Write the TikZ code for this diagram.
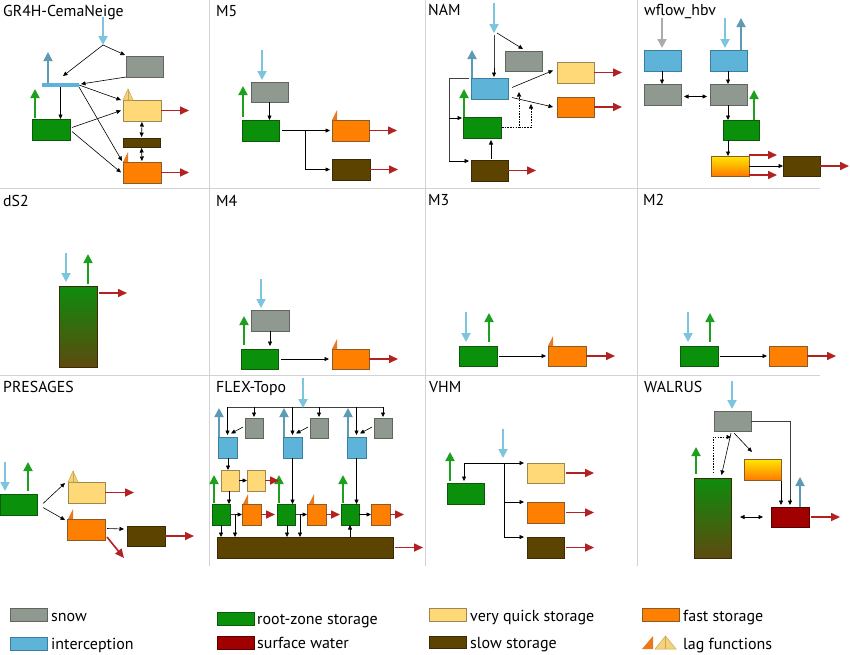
\documentclass[tikz,border=0pt]{standalone}
\usepackage{fontspec}
\setmainfont{PT Sans}
\usetikzlibrary{arrows.meta,calc}
\definecolor{snowc}{HTML}{8F998F}\definecolor{snowb}{HTML}{5F655F}
\definecolor{icpc}{HTML}{5DB4D8}\definecolor{icpb}{HTML}{3B7E9E}
\definecolor{rootc}{HTML}{0B900B}\definecolor{rootb}{HTML}{0A5A0A}
\definecolor{vqc}{HTML}{FFD978}\definecolor{vqb}{HTML}{9A8850}
\definecolor{fastc}{HTML}{FF8000}\definecolor{fastb}{HTML}{8A5A28}
\definecolor{slowc}{HTML}{5C4300}\definecolor{slowb}{HTML}{3A2A05}
\definecolor{swc}{HTML}{A00000}\definecolor{swb}{HTML}{5A0000}
\definecolor{precip}{HTML}{7DC4DE}\definecolor{evap}{HTML}{5B9CB4}
\definecolor{trans}{HTML}{1EA01E}\definecolor{runoff}{HTML}{B22222}
\definecolor{gridc}{HTML}{D3D3D3}\definecolor{lagy}{HTML}{F3D27A}
\definecolor{lagyb}{HTML}{C9A850}\definecolor{lago}{HTML}{E9791A}
\definecolor{yotop}{HTML}{FFE800}\definecolor{yobot}{HTML}{FF7A00}
\definecolor{gbtop}{HTML}{0D8C0D}\definecolor{gbbot}{HTML}{5E4A0F}
\definecolor{grayarr}{HTML}{A9ADA9}
\newcommand\Bx[6]{\node[#1,minimum width=#5pt,minimum height=#6pt] (#2) at (#3,#4) {};}
\newcommand\lagY[2]{\draw[draw=lagyb, fill=lagy, line width=0.5pt] (#1,#2) -- ++(5,-11) -- ++(5,11) -- cycle; \draw[lagyb, line width=0.5pt] (#1+5,#2) -- ++(0,-11);}
\newcommand\lagO[2]{\fill[lago] (#1,#2) -- ++(5,-10) -- ++(0,10) -- cycle;}
\begin{document}
\begin{tikzpicture}[x=1pt,y=-1pt,
 bx/.style={draw, line width=0.7pt, inner sep=0pt, outer sep=0pt, anchor=north west},
 snow/.style={bx, fill=snowc, draw=snowb},
 icp/.style={bx, fill=icpc, draw=icpb},
 root/.style={bx, fill=rootc, draw=rootb},
 vq/.style={bx, fill=vqc, draw=vqb},
 fast/.style={bx, fill=fastc, draw=fastb},
 slow/.style={bx, fill=slowc, draw=slowb},
 swat/.style={bx, fill=swc, draw=swb},
 yo/.style={bx, top color=yotop, bottom color=yobot, draw=fastb},
 gb/.style={bx, top color=gbtop, bottom color=gbbot, draw=slowb},
 colarr/.style={line width=1.8pt, -{Triangle[length=9pt,width=9pt]}},
 pa/.style={colarr, draw=precip},
 ea/.style={colarr, draw=evap},
 ta/.style={colarr, draw=trans},
 ga/.style={colarr, draw=grayarr},
 ra/.style={line width=1.6pt, draw=runoff, -{Triangle[length=9pt,width=8pt]}},
 ka/.style={draw=black, line width=0.6pt, -{Triangle[length=4.5pt,width=4pt]}},
 kl/.style={draw=black!75, line width=0.6pt},
 kd/.style={draw=black, line width=0.6pt, {Triangle[length=4.5pt,width=4pt]}-{Triangle[length=4.5pt,width=4pt]}, shorten <=1pt, shorten >=1pt},
 kdot/.style={ka, dash pattern=on 1.5pt off 1.2pt, line width=0.8pt},
 ttl/.style={anchor=base west, inner sep=0pt, font=\fontsize{15.8}{18}\selectfont},
 lgt/.style={anchor=base west, inner sep=0pt, font=\fontsize{16}{18}\selectfont},
 gridl/.style={draw=gridc, line width=0.8pt}
]
\useasboundingbox[fill=white] (0,0) rectangle (850,654);
% grid
\draw[gridl] (209.5,0) -- (209.5,566);
\draw[gridl] (425,0) -- (425,566);
\draw[gridl] (637.5,0) -- (637.5,566);
\draw[gridl] (0,188) -- (820,188);
\draw[gridl] (0,375) -- (820,375);
% titles
\node[ttl] (t1) at (3,16) {GR4H-CemaNeige};
\node[ttl] (t2) at (216,16) {M5};
\node[ttl] (t3) at (428,15) {NAM};
\node[ttl] (t4) at (644,15) {wflow\_hbv};
\node[ttl] (t5) at (3,206) {dS2};
\node[ttl] (t6) at (216,206) {M4};
\node[ttl] (t7) at (428,205) {M3};
\node[ttl] (t8) at (643,205) {M2};
\node[ttl] (t9) at (3,392) {PRESAGES};
\node[ttl] (t10) at (216,392) {FLEX-Topo};
\node[ttl] (t11) at (429,392) {VHM};
\node[ttl] (t12) at (644,392) {WALRUS};

% ---------- GR4H-CemaNeige
\Bx{snow}{sn1}{126}{56}{37}{21}
\node[bx, fill=icpc, draw=none, minimum width=37pt, minimum height=4pt] (ib1) at (42,83) {};
\Bx{root}{g1}{32}{119}{38}{21}
\Bx{vq}{v1}{123}{100}{38}{21}
\Bx{slow}{s1}{123}{138}{37}{9}
\Bx{fast}{f1}{123}{162}{38}{21}
\lagY{123}{100}
\lagO{123}{162}
\coordinate (p1s) at (103,17);
\coordinate (p1t) at (103,45);
\draw[pa] (p1s) -- (p1t);
\draw[ka] (p1t) -- (63,76);
\draw[ka] (p1t) -- ($(sn1.north west)+(-1,-1)$);
\draw[ka] (sn1.south west) -- ($(ib1.east)+(2,-1)$);
\draw[ka] (ib1.south) -- (ib1.south |- g1.north);
\draw[ka] (ib1.east) -- ($(v1.north west)+(-2,0)$);
\draw[ka] (ib1.south east) -- ($(f1.north west)+(-1,-1)$);
\draw[ka] ($(g1.east)+(2,-2)$) -- ($(v1.west)+(-2,0)$);
\draw[ka] ($(g1.east)+(2,2)$) -- ($(f1.west)+(-2,0)$);
\draw[kd] (v1.south) -- (s1.north);
\draw[kd] (s1.south) -- (f1.north);
\draw[ra] (v1.east) -- +(28,0);
\draw[ra] (f1.east) -- +(28,0);
\draw[ta] ($(g1.north west)+(3,-1)$) -- +(0,-29);
\draw[ea] ($(ib1.north west)+(6,0)$) -- +(0,-31);

% ---------- M5
\Bx{snow}{sn2}{251}{82}{37}{20}
\Bx{root}{g2}{242}{120}{37}{21}
\Bx{fast}{f2}{332}{120}{37}{21}
\Bx{slow}{s2}{332}{159}{38}{21}
\lagO{332}{120}
\draw[pa] (262,50) -- (262,80);
\draw[ta] (243,117) -- (243,86);
\draw[ka] (sn2.south) -- (sn2.south |- g2.north);
\draw[ka] ($(g2.east)+(3,0)$) -- ($(f2.west)+(-2,0)$);
\coordinate (j2) at (305,130.5);
\draw[ka] (j2) |- ($(s2.west)+(-2,0)$);
\draw[ra] (f2.east) -- +(28,0);
\draw[ra] (s2.east) -- +(28,0);

% ---------- NAM
\Bx{snow}{sn3}{505}{51}{37}{20}
\Bx{icp}{i3}{471}{78}{37}{21}
\Bx{root}{g3}{463}{117}{38}{21}
\Bx{slow}{s3}{471}{160}{37}{21}
\Bx{vq}{v3}{557}{62}{37}{21}
\Bx{fast}{f3}{557}{97}{37}{20}
\coordinate (p3t) at (494,33);
\draw[pa] (494,3) -- (p3t);
\draw[kl] (494,35) -- (494,70);
\draw[ka] (494,68) -- ($(i3.north -| 494,0)+(0,-1)$);
\draw[ka] ($(p3t)+(3,0)$) -- ($(sn3.north)+(-0.5,-2)$);
\draw[ea] (472,78) -- (472,50);
\draw[ta] (464,117) -- (464,89);
\draw[ka] ($(i3.east)+(4,-1)$) -- ($(v3.west)+(-4,-2)$);
\draw[ka] ($(i3.east)+(4,9)$) -- ($(f3.west)+(-4,0)$);
\draw[kdot] ($(g3.east)+(1,0)$) -| (519,92);
\draw[kdot] (519,127.5) -| (531,104);
\draw[kl] ($(i3.north west)+(-2,0)$) -- (449,78) -- (449,161);
\draw[ka] (449,161) -- ($(s3.north west)+(-2,1)$);
\draw[ka] (449,118) -- ($(g3.north west)+(-1,1)$);
\draw[ka] (491,159) -- (491,140);
\draw[ra] (v3.east) -- +(28,0);
\draw[ra] (f3.east) -- +(28,0);
\draw[ra] (s3.east) -- +(28,0);

% ---------- wflow_hbv
\Bx{icp}{ia4}{644}{50}{37}{21}
\Bx{icp}{ib4}{710}{50}{37}{21}
\Bx{snow}{sa4}{644}{84}{37}{21}
\Bx{snow}{sb4}{710}{84}{37}{21}
\Bx{root}{g4}{723}{120}{36}{20}
\Bx{yo}{q4}{711}{156}{38}{20}
\Bx{slow}{s4}{783}{156}{37}{20}
\draw[ga] (662,18) -- (662,48);
\draw[pa] (725,18) -- (725,48);
\draw[ea] (741,50) -- (741,18);
\draw[ka] (ia4.south -| 662,0) -- (sa4.north -| 662,0);
\draw[ka] (ib4.south -| 728,0) -- (sb4.north -| 728,0);
\draw[kd] ($(sa4.east)+(2,2)$) -- ($(sb4.west)+(-2,2)$);
\draw[ka] (sb4.south -| 728,0) -- (g4.north -| 728,0);
\draw[ka] (g4.south -| 728,0) -- (q4.north -| 728,0);
\draw[ta] (754,120) -- (754,90);
\draw[ra] ($(q4.north east)+(0,-1)$) -- +(28,0);
\draw[ra] ($(q4.south east)+(0,-1)$) -- +(28,0);
\draw[ka] (q4.east) -- (s4.west);
\draw[ra] (s4.east) -- +(29,0);

% ---------- dS2
\Bx{gb}{d5}{59}{286}{38}{81}
\draw[pa] (66,253) -- (66,282);
\draw[ta] (88,284) -- (88,254);
\draw[ra] ($(d5.north east)+(2,7)$) -- +(28,0);

% ---------- M4
\Bx{snow}{sn6}{251}{310}{38}{21}
\Bx{root}{g6}{241}{349}{37}{20}
\Bx{fast}{f6}{332}{349}{37}{20}
\lagO{332}{349}
\draw[pa] (261,279) -- (261,308);
\draw[ta] (244,345) -- (244,316);
\draw[ka] (sn6.south -| 270,0) -- (270,346);
\draw[ka] ($(g6.east)+(3,0)$) -- ($(f6.west)+(-3,0)$);
\draw[ra] (f6.east) -- +(29,0);

% ---------- M3
\Bx{root}{g7}{459}{346}{38}{20}
\Bx{fast}{f7}{548}{346}{38}{20}
\lagO{548}{346}
\draw[pa] (466,312) -- (466,342);
\draw[ta] (489,342) -- (489,313);
\draw[ka] ($(g7.east)+(2,0)$) -- ($(f7.west)+(-2,0)$);
\draw[ra] (f7.east) -- +(29,0);

% ---------- M2
\Bx{root}{g8}{680}{346}{38}{20}
\Bx{fast}{f8}{769}{346}{38}{20}
\draw[pa] (688,312) -- (688,342);
\draw[ta] (710,342) -- (710,313);
\draw[ka] ($(g8.east)+(2,0)$) -- ($(f8.west)+(-2,0)$);
\draw[ra] (f8.east) -- +(29,0);

% ---------- PRESAGES
\Bx{root}{g9}{0}{494}{37}{21}
\Bx{vq}{v9}{68}{482}{37}{21}
\Bx{fast}{f9}{67}{519}{38}{21}
\Bx{slow}{s9}{127}{526}{38}{20}
\lagY{68}{482}
\lagO{68}{519}
\draw[pa] (5,462) -- (5,491);
\draw[ta] (28,491) -- (28,462);
\draw[ka] ($(g9.east)+(6,-1)$) -- ($(v9.north west)+(-3,1)$);
\draw[ka] ($(g9.east)+(6,3)$) -- ($(f9.north west)+(-2,1)$);
\draw[ra] (v9.east) -- +(29,0);
\draw[ra] (s9.east) -- +(29,0);
\draw[ka] ($(f9.east)+(2,-1)$) -- ($(s9.west)+(-3,-7)$);
\draw[ra] ($(f9.south east)+(2,-3)$) -- +(17,21);

% ---------- FLEX-Topo
\Bx{slow}{fsl}{217}{537}{176}{21}
\draw[kl] (227,407) -- (383,407);
\draw[pa] (303,378) -- (303,408);
\foreach \dx/\i in {0/1,65/2,129/3}{
 \begin{scope}[xshift=\dx pt]
  \Bx{snow}{fs\i}{245}{418}{18}{20}
  \Bx{icp}{fb\i}{218}{437}{19}{21}
  \Bx{root}{fg\i}{212}{504}{18}{21}
  \Bx{fast}{ff\i}{242}{504}{19}{21}
  \draw[ka] (227.5,407) -- (227.5,435);
  \draw[ka] (254,407) -- (254,417);
  \draw[ka] (243,427) -- (231,433.5);
  \draw[ea] (219,437) -- (219,408);
  \draw[ta] (214,503) -- (214,475);
  \draw[ra] (ff\i.east) -- +(14,0);
 \end{scope}
}
\lagO{243}{504}
\lagO{309}{504}
% unit 1
\Bx{vq}{fv1}{221}{470}{18}{21}
\Bx{vq}{fw1}{247}{470}{18}{21}
\draw[ka] (fb1.south -| 228,0) -- (fv1.north -| 228,0);
\draw[ka] (fv1.east) -- (fw1.west);
\draw[ra] (fw1.east) -- +(14,0);
\draw[ka] (fv1.south -| 229,0) -- (fg1.north -| 229,0);
\draw[kl] (fg1.east) -- (235,514.5);
\draw[ka] (235,514.5) -- (ff1.west);
\draw[ka] (235,514.5) -- (fsl.north -| 235,0);
\draw[ka] (fg1.south -| 221,0) -- (fsl.north -| 221,0);
% unit 2
\draw[ka] (fb2.south) -- (fb2.south |- fg2.north);
\draw[kl] (fg2.east) -- (300,514.5);
\draw[ka] (300,514.5) -- (ff2.west);
\draw[ka] (300,514.5) -- (fsl.north -| 300,0);
\draw[ka] (fg2.south -| 287,0) -- (fsl.north -| 287,0);
% unit 3
\draw[ka] (fb3.south) -- (fb3.south |- fg3.north);
\draw[ka] (fg3.east) -- (ff3.west);
\draw[ka] (fsl.north -| fg3.south) -- (fg3.south);
\draw[ra] ($(fsl.east)+(2,0)$) -- +(28,0);

% ---------- VHM
\Bx{root}{g11}{447}{483}{37}{21}
\Bx{vq}{v11}{527}{463}{37}{20}
\Bx{fast}{f11}{527}{502}{37}{21}
\Bx{slow}{s11}{527}{537}{37}{21}
\coordinate (j11) at (504,463);
\draw[pa] (503,429) -- (503,458);
\draw[ta] (450,481) -- (450,452);
\draw[ka] (j11) -- (464,463) -- (464,481);
\draw[ka] (j11) -- ($(v11.north west)+(-3,0)$);
\draw[ka] (j11) |- ($(f11.north west)+(-3,0)$);
\draw[ka] (j11) |- ($(s11.north west)+(-3,0)$);
\draw[ra] ($(v11.east)+(2,0)$) -- +(28,0);
\draw[ra] ($(f11.east)+(2,0)$) -- +(28,0);
\draw[ra] ($(s11.east)+(2,0)$) -- +(28,0);

% ---------- WALRUS
\Bx{snow}{sn12}{714}{411}{37}{20}
\Bx{yo}{q12}{744}{459}{37}{21}
\Bx{gb}{d12}{694}{478}{37}{80}
\Bx{swat}{w12}{771}{507}{38}{20}
\draw[pa] (732,381) -- (732,409);
\draw[kl] (sn12.east) -- (790,421) -- (790,500);
\draw[ka] (790,499) -- (790,505);
\draw[ka] (734,433) -- ($(q12.north west)+(8,-7)$);
\draw[ka] (731,433) -- ($(d12.north)+(9,-3)$);
\draw[kdot] ($(d12.north west)+(19,-5)$) |- (731,437);
\draw[ka] (781,481) -- (781,505);
\draw[ta] (696,474) -- (696,447);
\draw[kd] (739,517) -- (764,517);
\draw[ea] (800,507) -- (800,477);
\draw[ra] ($(w12.east)+(2,0)$) -- +(29,0);

% ---------- legend
\Bx{snow}{L1}{10}{608}{37}{13}
\node[lgt] (L1t) at (51,621) {snow};
\Bx{icp}{L2}{10}{637}{37}{13}
\node[lgt] (L2t) at (51,649) {interception};
\Bx{root}{L3}{217}{612}{37}{13}
\node[lgt] (L3t) at (257,624) {root-zone storage};
\Bx{swat}{L4}{217}{636}{37}{13}
\node[lgt] (L4t) at (257,648) {surface water};
\Bx{vq}{L5}{429}{608}{37}{13}
\node[lgt] (L5t) at (470,621) {very quick storage};
\Bx{slow}{L6}{429}{636}{37}{12}
\node[lgt] (L6t) at (470,648) {slow storage};
\Bx{fast}{L7}{642}{608}{37}{13}
\node[lgt] (L7t) at (683,621) {fast storage};
\fill[lago] (642,649) -- (653,636) -- (653,649) -- cycle;
\draw[draw=lagyb, fill=lagy, line width=0.5pt] (655,649) -- (665.5,636) -- (676,649) -- cycle;
\draw[lagyb, line width=0.5pt] (665.5,636) -- (665.5,649);
\node[lgt] (L8t) at (683,649) {lag functions};
\end{tikzpicture}
\end{document}
